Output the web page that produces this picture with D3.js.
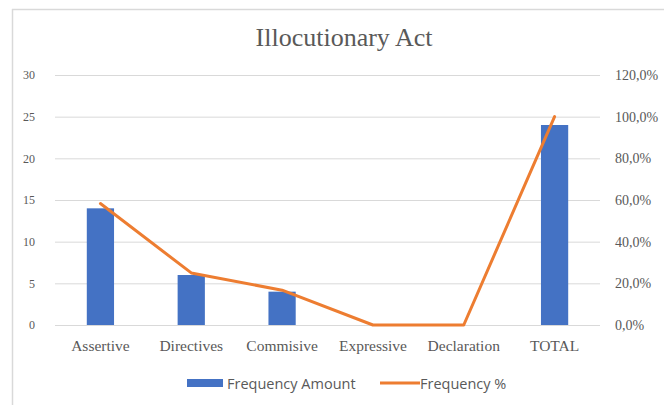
<!DOCTYPE html>
<html>
<head>
<meta charset="utf-8">
<script src="https://cdn.jsdelivr.net/npm/d3@7/dist/d3.min.js"></script>
<style>
  html, body { margin: 0; padding: 0; background: #fff; }
  svg { display: block; }
</style>
</head>
<body>
<svg id="chart" width="664" height="405"></svg>
<script>
// Illocutionary act counts and their share of the total
const categories = ["Assertive", "Directives", "Commisive", "Expressive", "Declaration", "TOTAL"];
const frequencyAmount = [14, 6, 4, 0, 0, 24];
const frequencyPercent = [0.583, 0.25, 0.167, 0, 0, 1.0];
const leftTicks = [0, 5, 10, 15, 20, 25, 30];
const rightTicks = [0, 0.2, 0.4, 0.6, 0.8, 1.0, 1.2];
const seriesNames = ["Frequency Amount", "Frequency %"];

const svg = d3.select("#chart");
const W = 664, H = 405;
const plot = { left: 55, right: 600, top: 75, bottom: 325 };
const textGray = "#595959";
const barColor = "#4472C4";
const lineColor = "#ED7D31";
const serif = "'Liberation Serif', 'Times New Roman', serif";

// chart frame edges
svg.append("line").attr("x1", 12).attr("x2", W).attr("y1", 9.5).attr("y2", 9.5)
  .attr("stroke", "#d9d9d9").attr("stroke-width", 1.5);
svg.append("line").attr("x1", 12.5).attr("x2", 12.5).attr("y1", 9).attr("y2", H)
  .attr("stroke", "#d9d9d9").attr("stroke-width", 1.5);

const x = d3.scaleBand().domain(categories)
  .range([plot.left, plot.right]).paddingInner(0.7).paddingOuter(0.35);
const y = d3.scaleLinear().domain([0, 30]).range([plot.bottom, plot.top]);
const y2 = d3.scaleLinear().domain([0, 1.2]).range([plot.bottom, plot.top]);

// left axis with gridlines
const gLeft = svg.append("g").attr("transform", `translate(${plot.left},0)`)
  .call(d3.axisLeft(y).tickValues(leftTicks).tickSize(-(plot.right - plot.left)).tickPadding(20));
gLeft.select(".domain").remove();
gLeft.selectAll(".tick line").attr("stroke", "#d9d9d9").attr("stroke-width", 1);
gLeft.selectAll(".tick text").attr("fill", textGray)
  .style("font-family", serif).style("font-size", "12px");

// right percentage axis
const fmtPct = v => (v * 100).toFixed(1).replace(".", ",") + "%";
const gRight = svg.append("g").attr("transform", `translate(${plot.right},0)`)
  .call(d3.axisRight(y2).tickValues(rightTicks).tickSize(0).tickPadding(15).tickFormat(fmtPct));
gRight.select(".domain").remove();
gRight.selectAll(".tick text").attr("fill", textGray)
  .style("font-family", serif).style("font-size", "14px");

// bars
svg.append("g").selectAll("rect").data(categories).join("rect")
  .attr("x", (d) => x(d))
  .attr("y", (d, i) => y(frequencyAmount[i]))
  .attr("width", x.bandwidth())
  .attr("height", (d, i) => y(0) - y(frequencyAmount[i]))
  .attr("fill", barColor);

// percentage line
const line = d3.line()
  .x((d, i) => x(categories[i]) + x.bandwidth() / 2)
  .y(d => y2(d));
svg.append("path").datum(frequencyPercent)
  .attr("d", line).attr("fill", "none")
  .attr("stroke", lineColor).attr("stroke-width", 3)
  .attr("stroke-linejoin", "round").attr("stroke-linecap", "round");

// category axis
const gBottom = svg.append("g").attr("transform", `translate(0,${plot.bottom})`)
  .call(d3.axisBottom(x).tickSize(0).tickPadding(15));
gBottom.select(".domain").remove();
gBottom.selectAll(".tick text").attr("fill", textGray)
  .style("font-family", serif).style("font-size", "15.5px");

// title
svg.append("text").attr("x", 344).attr("y", 46).attr("text-anchor", "middle")
  .attr("fill", textGray)
  .style("font-family", serif).style("font-size", "26px")
  .text("Illocutionary Act");

// legend
const legend = svg.append("g").style("font-family", "'Open Sans', 'Liberation Sans', sans-serif")
  .style("font-size", "14.5px");
legend.append("rect").attr("x", 187).attr("y", 379).attr("width", 36).attr("height", 8).attr("fill", barColor);
legend.append("text").attr("x", 227).attr("y", 388.5).attr("fill", textGray).text(seriesNames[0]);
legend.append("line").attr("x1", 380).attr("x2", 420).attr("y1", 383).attr("y2", 383)
  .attr("stroke", lineColor).attr("stroke-width", 3);
legend.append("text").attr("x", 420).attr("y", 388.5).attr("fill", textGray).text(seriesNames[1]);
</script>
</body>
</html>
